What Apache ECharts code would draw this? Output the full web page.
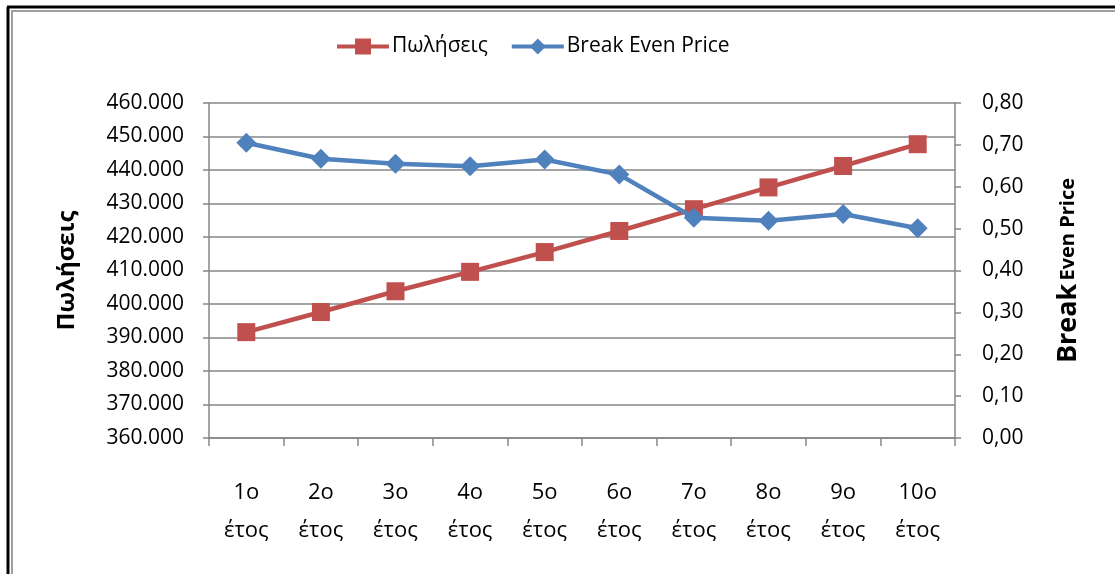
<!DOCTYPE html>
<html>
<head>
<meta charset="utf-8">
<script src="https://cdn.jsdelivr.net/npm/echarts@6/dist/echarts.min.js"></script>
<style>
  html, body { margin: 0; padding: 0; background: #fff; }
  #chart { width: 1115px; height: 574px; }
</style>
</head>
<body>
<div id="chart"></div>
<script>
// data
var years = ['1ο\nέτος', '2ο\nέτος', '3ο\nέτος', '4ο\nέτος', '5ο\nέτος', '6ο\nέτος', '7ο\nέτος', '8ο\nέτος', '9ο\nέτος', '10ο\nέτος'];
var sales = [391600, 397600, 403800, 409600, 415500, 421800, 428300, 434800, 441200, 447700];
var breakEven = [0.705, 0.667, 0.655, 0.649, 0.665, 0.629, 0.526, 0.519, 0.535, 0.501];

var FONT = '"Open Sans"';
var GREY = '#868686';

var chart = echarts.init(document.getElementById('chart'));

function fmtThousands(v) {
    return String(v).replace(/\B(?=(\d{3})+(?!\d))/g, '.');
}

chart.setOption({
    animation: false,
    textStyle: { fontFamily: FONT, color: '#000' },
    legend: {
        top: 31,
        left: 330,
        itemWidth: 52,
        itemHeight: 20,
        itemGap: 22,
        lineStyle: { width: 4 },
        textStyle: { fontSize: 21, fontFamily: FONT, color: '#000', padding: [0, 0, 0, -2] },
        data: ['Πωλήσεις', 'Break Even Price']
    },
    grid: { left: 209, right: 160, top: 103, bottom: 136 },
    graphic: [
        { type: 'line', shape: { x1: 8, y1: 7, x2: 8, y2: 574 }, style: { stroke: '#000', lineWidth: 3 } },
        { type: 'line', shape: { x1: 7, y1: 7, x2: 1115, y2: 7 }, style: { stroke: '#000', lineWidth: 3 } },
        { type: 'line', shape: { x1: 12, y1: 11, x2: 12, y2: 574 }, style: { stroke: '#a0a0a0', lineWidth: 2 } },
        { type: 'line', shape: { x1: 11, y1: 11, x2: 1115, y2: 11 }, style: { stroke: '#a0a0a0', lineWidth: 2 } }
    ],
    xAxis: {
        type: 'category',
        data: years,
        boundaryGap: true,
        axisLine: { lineStyle: { color: GREY, width: 1.5 } },
        axisTick: { show: true, length: 8, alignWithLabel: false, lineStyle: { color: GREY, width: 1.5 } },
        axisLabel: { fontSize: 22, lineHeight: 38, margin: 36, color: '#000', fontFamily: FONT, interval: 0 }
    },
    yAxis: [
        {
            type: 'value',
            min: 360000,
            max: 460000,
            interval: 10000,
            name: 'Πωλήσεις',
            nameLocation: 'middle',
            nameGap: 130,
            nameTextStyle: { fontSize: 24, fontWeight: 'bold', color: '#000', fontFamily: FONT },
            axisLine: { show: true, lineStyle: { color: GREY, width: 1.5 } },
            axisTick: { show: true, length: 6, lineStyle: { color: GREY, width: 1.5 } },
            axisLabel: { fontSize: 21, margin: 25, color: '#000', fontFamily: FONT, formatter: fmtThousands },
            splitLine: { show: true, lineStyle: { color: GREY, width: 1.5 } }
        },
        {
            type: 'value',
            min: 0,
            max: 0.8,
            interval: 0.1,
            position: 'right',
            name: '{b|Break} {s|Even Price}',
            nameLocation: 'middle',
            nameGap: 100,
            nameRotate: 90,
            nameTextStyle: {
                rich: {
                    b: { fontSize: 27, fontWeight: 'bold', color: '#000', fontFamily: FONT },
                    s: { fontSize: 20, fontWeight: 'bold', color: '#000', fontFamily: FONT }
                }
            },
            axisLine: { show: true, lineStyle: { color: GREY, width: 1.5 } },
            axisTick: { show: true, length: 6, inside: false, lineStyle: { color: GREY, width: 1.5 } },
            axisLabel: { fontSize: 21, margin: 27, color: '#000', fontFamily: FONT, formatter: function (v) { return v.toFixed(2).replace('.', ','); } },
            splitLine: { show: false }
        }
    ],
    series: [
        {
            name: 'Πωλήσεις',
            type: 'line',
            yAxisIndex: 0,
            data: sales,
            symbol: 'rect',
            symbolSize: 18,
            itemStyle: { color: '#c0504d' },
            lineStyle: { color: '#c0504d', width: 4.5 },
            z: 3
        },
        {
            name: 'Break Even Price',
            type: 'line',
            yAxisIndex: 1,
            data: breakEven,
            symbol: 'diamond',
            symbolSize: 20,
            itemStyle: { color: '#4f81bd' },
            lineStyle: { color: '#4f81bd', width: 4.5 },
            z: 4
        }
    ]
});
</script>
</body>
</html>
